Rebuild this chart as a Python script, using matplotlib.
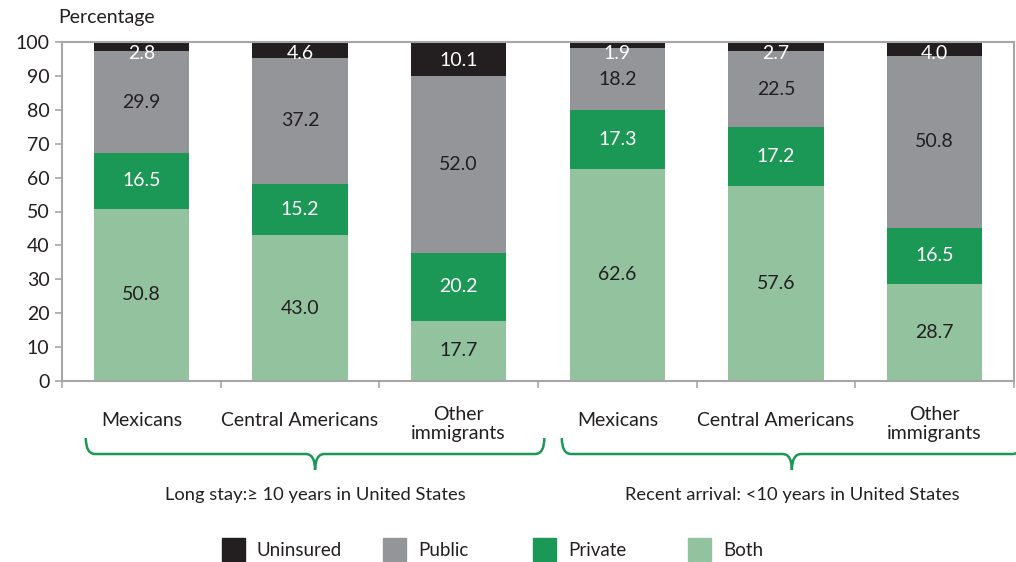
import numpy as np
import matplotlib.pyplot as plt
from matplotlib.path import Path
from matplotlib.patches import PathPatch, Rectangle
from matplotlib.transforms import blended_transform_factory

plt.rcParams['font.family'] = ['Lato', 'DejaVu Sans']

# data (percent)
categories = ['Mexicans', 'Central Americans', 'Other\nimmigrants',
              'Mexicans', 'Central Americans', 'Other\nimmigrants']
groups = ['Long stay:\u2265 10 years in United States',
          'Recent arrival: <10 years in United States']
both = [50.8, 43.0, 17.7, 62.6, 57.6, 28.7]
private = [16.5, 15.2, 20.2, 17.3, 17.2, 16.5]
public = [29.9, 37.2, 52.0, 18.2, 22.5, 50.8]
uninsured = [2.8, 4.6, 10.1, 1.9, 2.7, 4.0]

c_unins = '#231f20'
c_public = '#939598'
c_private = '#1c9856'
c_both = '#93c29f'
c_spine = '#a6a6a6'
c_text = '#231f20'

fig = plt.figure(figsize=(10.16, 5.62), dpi=100)
ax = fig.add_axes([62 / 1016, 1 - 381 / 562, 952 / 1016, 339 / 562])

x = np.arange(len(categories))
w = 0.6
b1 = np.array(both)
b2 = b1 + np.array(private)
b3 = b2 + np.array(public)
ax.bar(x, both, w, color=c_both, zorder=2)
ax.bar(x, private, w, bottom=b1, color=c_private, zorder=2)
ax.bar(x, public, w, bottom=b2, color=c_public, zorder=2)
ax.bar(x, uninsured, w, bottom=b3, color=c_unins, zorder=2)

fs = 14
for i in range(len(x)):
    ax.text(x[i], both[i] / 2, f'{both[i]:.1f}', ha='center', va='center', fontsize=fs, color=c_text)
    ax.text(x[i], b1[i] + private[i] / 2, f'{private[i]:.1f}', ha='center', va='center', fontsize=fs, color='white')
    ax.text(x[i], b2[i] + public[i] / 2, f'{public[i]:.1f}', ha='center', va='center', fontsize=fs, color=c_text)
    yu = 100 - max(uninsured[i] / 2 + 0.5, 3.3)
    ax.text(x[i], yu, f'{uninsured[i]:.1f}', ha='center', va='center', fontsize=fs, color='white', zorder=3)

ax.set_xlim(-0.5, 5.5)
ax.set_ylim(0, 100)
ax.set_yticks(np.arange(0, 101, 10))
ax.tick_params(axis='y', labelsize=fs, colors=c_spine, labelcolor=c_text, length=5, width=1.2, pad=4)
ax.set_xticks(np.arange(-0.5, 5.6, 1))
ax.set_xticklabels([])
ax.tick_params(axis='x', colors=c_spine, length=5, width=1.2)
for s in ax.spines.values():
    s.set_color(c_spine)
    s.set_linewidth(1.5)

fig.text(58 / 1016, 1 - 17 / 562, 'Percentage', fontsize=fs, color=c_text, va='center')

trans = blended_transform_factory(ax.transData, fig.transFigure)
for i, lab in enumerate(categories):
    yy = 1 - (421 if '\n' not in lab else 424) / 562
    ax.text(x[i], yy, lab, transform=trans, ha='center', va='center', fontsize=fs,
            color=c_text, linespacing=1.1)

# curly brackets under each group
spans = [(-0.35, 2.54), (2.65, 5.55)]
ytop, ybase, ytip = 1 - 438 / 562, 1 - 454 / 562, 1 - 470 / 562
for (x0, x1), g in zip(spans, groups):
    xc = (x0 + x1) / 2
    r = 0.06
    verts = [(x0, ytop), (x0, ybase), (x0 + r, ybase),
             (xc - r, ybase), (xc, ybase), (xc, ytip),
             (xc, ybase), (xc + r, ybase),
             (x1 - r, ybase), (x1, ybase), (x1, ytop)]
    codes = [Path.MOVETO, Path.CURVE3, Path.CURVE3,
             Path.LINETO, Path.CURVE3, Path.CURVE3,
             Path.CURVE3, Path.CURVE3,
             Path.LINETO, Path.CURVE3, Path.CURVE3]
    ax.add_patch(PathPatch(Path(verts, codes), transform=trans, fill=False,
                           edgecolor=c_private, lw=1.8, clip_on=False))
    ax.text(xc, 1 - 495 / 562, g, transform=trans, ha='center', va='center',
            fontsize=13.2, color=c_text)

# legend
leg_names = ['Uninsured', 'Public', 'Private', 'Both']
leg_colors = [c_unins, c_public, c_private, c_both]
leg_x = [222, 383, 533, 688]
for px, name, col in zip(leg_x, leg_names, leg_colors):
    fig.patches.append(Rectangle((px / 1016, 1 - 561 / 562), 23 / 1016, 23 / 562,
                                 transform=fig.transFigure, color=col))
    fig.text((px + 35) / 1016, 1 - 550 / 562, name, fontsize=13.5, color=c_text, va='center')

fig.savefig('out.png', dpi=100)
